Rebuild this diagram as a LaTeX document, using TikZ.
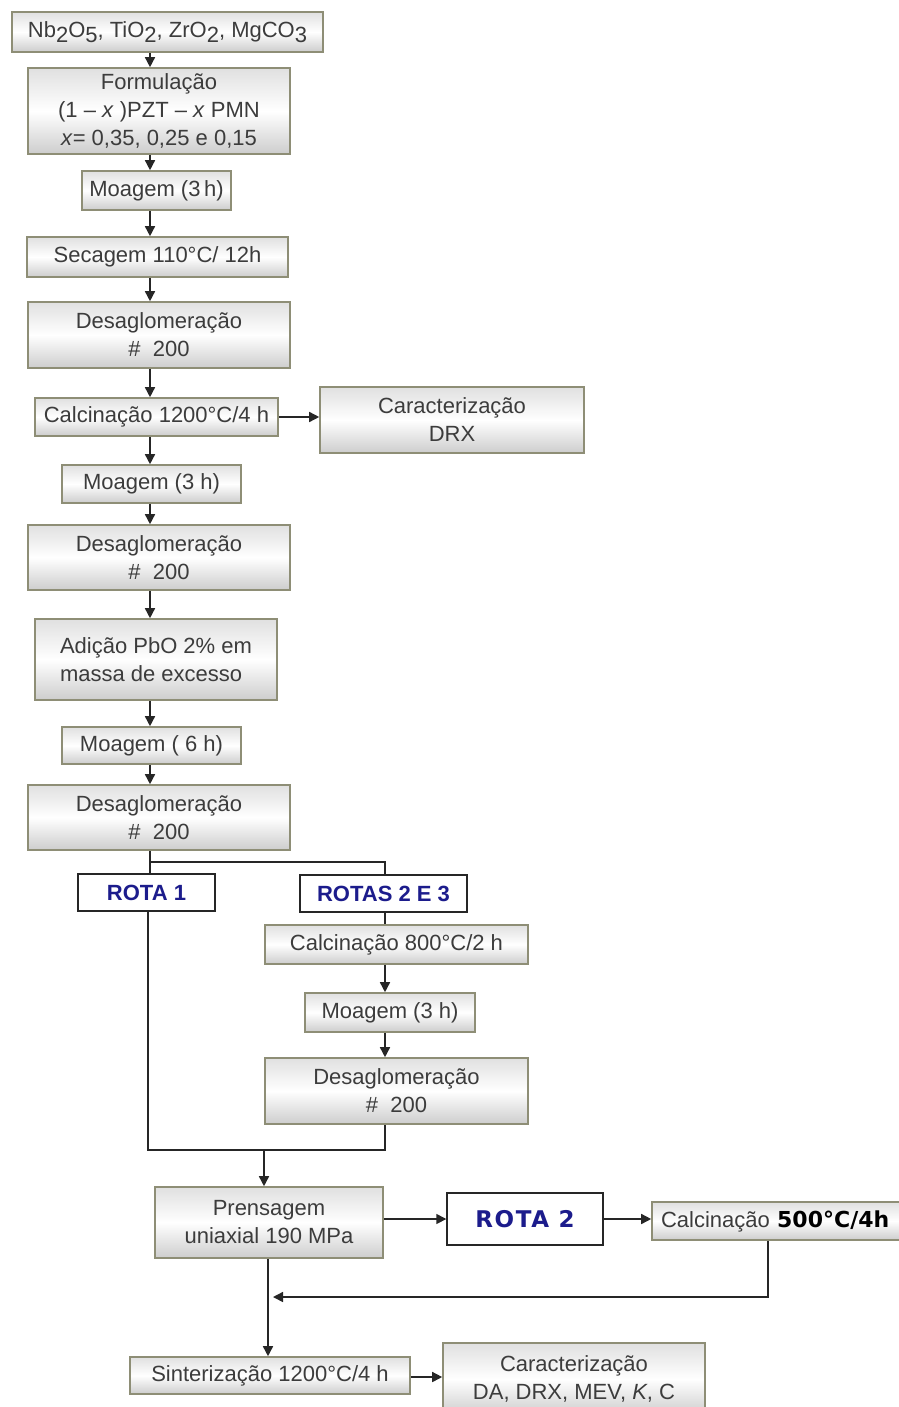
\documentclass[tikz,border=0pt]{standalone}
\usepackage{fontspec}
\setmainfont{Liberation Sans}
\newfontfamily\dvsans{DejaVu Sans}
\newfontfamily\rotafont[LetterSpace=7]{DejaVu Sans}
\usetikzlibrary{arrows.meta}
\definecolor{boxline}{HTML}{8E8E76}
\definecolor{txt}{HTML}{3C3C3C}
\definecolor{navy}{HTML}{1C1C8C}
\definecolor{topg}{HTML}{E0E0E0}
\definecolor{botg}{HTML}{CDCDCD}
\newcommand\dn[1]{\raisebox{-5pt}{#1}}
\begin{document}
\begin{tikzpicture}[x=1pt,y=-1pt,
  every node/.style={font=\fontsize{22}{28}\selectfont, text=txt},
  box/.style={draw=boxline, line width=1.6pt, top color=topg, bottom color=botg, middle color=white, align=center, inner sep=0pt},
  wbox/.style={draw=black!85, line width=1.4pt, fill=white, inner sep=0pt, text=navy, font=\fontsize{22}{28}\selectfont\bfseries},
  con/.style={draw=black!85, line width=1.5pt},
  arr/.style={con, -{Triangle[length=10pt,width=10pt]}}]
\useasboundingbox (0,0) rectangle (898,1407);
\fill[white] (0,0) rectangle (898,1407);

% main column
\node[box, minimum width=311pt, minimum height=40pt] (src) at (167.5,32) {Nb\dn{2}O\dn{5}, TiO\dn{2}, ZrO\dn{2}, MgCO\dn{3}};
\node[box, minimum width=262pt, minimum height=86pt] (form) at (159,111) {Formulação\\(1 -- \textit{x} )PZT -- \textit{x} PMN\\\textit{x}= 0,35, 0,25 e 0,15};
\node[box, minimum width=149pt, minimum height=39pt] (moa1) at (156.5,190.5) {Moagem (3\,h)};
\node[box, minimum width=261pt, minimum height=40pt] (sec) at (157.5,257) {Secagem 110°C/ 12h};
\node[box, minimum width=262pt, minimum height=66pt] (des1) at (159,335) {Desaglomeração\\\#\ \ 200};
\node[box, minimum width=243pt, minimum height=38pt] (calc1) at (156.5,417) {Calcinação 1200°C/4 h};
\node[box, minimum width=264pt, minimum height=66pt] (car1) at (452,420) {Caracterização\\DRX};
\node[box, minimum width=179pt, minimum height=38pt] (moa2) at (151.5,484) {Moagem (3 h)};
\node[box, minimum width=262pt, minimum height=65pt] (des2) at (159,557.5) {Desaglomeração\\\#\ \ 200};
\node[box, minimum width=242pt, minimum height=81pt, align=left] (adi) at (156,659.5) {Adição PbO 2\% em\\massa de excesso};
\node[box, minimum width=179pt, minimum height=37pt] (moa3) at (151.5,745.5) {Moagem ( 6 h)};
\node[box, minimum width=262pt, minimum height=65pt] (des3) at (159,817.5) {Desaglomeração\\\#\ \ 200};

% routes
\node[wbox, minimum width=137pt, minimum height=37pt] (rota1) at (146.5,892.5) {ROTA 1};
\node[wbox, minimum width=167pt, minimum height=37pt] (rotas23) at (383.5,893.5) {ROTAS 2 E 3};
\node[box, minimum width=263pt, minimum height=39pt] (calc2) at (396.5,944.5) {Calcinação 800°C/2 h};
\node[box, minimum width=170pt, minimum height=39pt] (moa4) at (390,1012.5) {Moagem (3 h)};
\node[box, minimum width=263pt, minimum height=66pt] (des4) at (396.5,1091) {Desaglomeração\\\#\ \ 200};

% bottom
\node[box, minimum width=228pt, minimum height=71pt] (pren) at (269,1222.5) {Prensagem\\uniaxial 190 MPa};
\node[wbox, minimum width=156pt, minimum height=52pt, font=\fontsize{23}{28}\rotafont\bfseries] (rota2) at (525,1219) {ROTA 2};
\node[box, minimum width=258pt, minimum height=38pt, text width=240pt, align=left] (calc3) at (781,1221) {Calcinação {\dvsans\bfseries\color{black}500°C/4h}};
\node[box, minimum width=280pt, minimum height=37pt] (sint) at (270,1375.5) {Sinterização 1200°C/4 h};
\node[box, minimum width=262pt, minimum height=72pt] (car2) at (574,1379) {Caracterização\\DA, DRX, MEV, \textit{K}, C};

% spine coordinates
\coordinate (sp) at (150,0);
\coordinate (sp2) at (385,0);
\coordinate (sp4) at (268,0);
\coordinate (sp5) at (768,0);
\coordinate (br) at (150,862);
\coordinate (mg) at (148,1150);
\coordinate (sp3) at (264,1150);
\coordinate (rt) at (273,1297);
\coordinate (yb) at (0,1377);

% connectors main column
\draw[arr] (src.south -| sp) -- (form.north -| sp);
\draw[arr] (form.south -| sp) -- (moa1.north -| sp);
\draw[arr] (moa1.south -| sp) -- (sec.north -| sp);
\draw[arr] (sec.south -| sp) -- (des1.north -| sp);
\draw[arr] (des1.south -| sp) -- (calc1.north -| sp);
\draw[arr] (calc1.east) -- (calc1.east -| car1.west);
\draw[arr] (calc1.south -| sp) -- (moa2.north -| sp);
\draw[arr] (moa2.south -| sp) -- (des2.north -| sp);
\draw[arr] (des2.south -| sp) -- (adi.north -| sp);
\draw[arr] (adi.south -| sp) -- (moa3.north -| sp);
\draw[arr] (moa3.south -| sp) -- (des3.north -| sp);

% branch
\draw[con] (des3.south -| sp) -- (rota1.north -| sp);
\draw[con] (br) -| (rotas23.north -| sp2);
\draw[con] (rotas23.south -| sp2) -- (calc2.north -| sp2);
\draw[arr] (calc2.south -| sp2) -- (moa4.north -| sp2);
\draw[arr] (moa4.south -| sp2) -- (des4.north -| sp2);
\draw[con] (rota1.south -| mg) -- (mg) -- (mg -| sp2) -- (des4.south -| sp2);
\draw[arr] (sp3) -- (pren.north -| sp3);

% bottom connectors
\draw[arr] (pren.east |- rota2.west) -- (rota2.west);
\draw[arr] (rota2.east) -- (rota2.east -| calc3.west);
\draw[arr] (pren.south -| sp4) -- (sint.north -| sp4);
\draw[arr] (calc3.south -| sp5) |- (rt);
\draw[arr] (sint.east |- yb) -- (car2.west |- yb);
\end{tikzpicture}
\end{document}
